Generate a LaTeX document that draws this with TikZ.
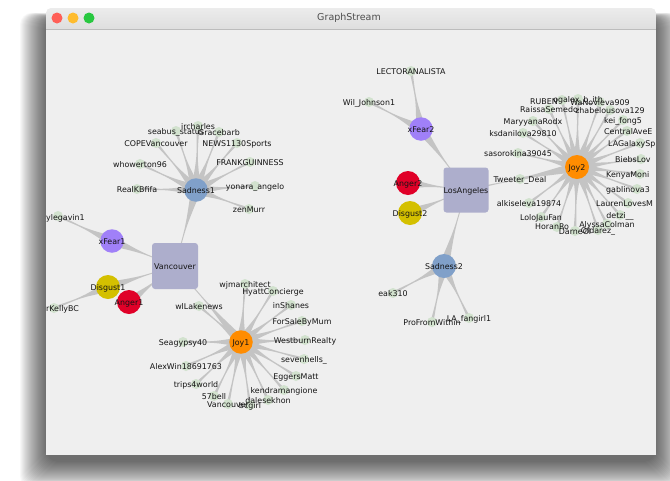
\documentclass[tikz,border=0pt]{standalone}
\usepackage{fontspec}
\setmainfont{DejaVu Sans}
\usetikzlibrary{calc}
\definecolor{edgec}{RGB}{196,196,196}
\definecolor{leafc}{RGB}{210,226,206}
\definecolor{sadc}{RGB}{128,160,201}
\definecolor{fearc}{RGB}{160,128,248}
\definecolor{disc}{RGB}{212,192,0}
\definecolor{angc}{RGB}{224,0,40}
\definecolor{joyc}{RGB}{255,140,0}
\definecolor{cityc}{RGB}{173,174,204}
\definecolor{winbg}{RGB}{239,239,239}
\definecolor{tbtop}{RGB}{236,236,236}
\definecolor{tbbot}{RGB}{212,212,212}
\definecolor{tbline}{RGB}{188,188,188}
\definecolor{txtc}{RGB}{20,20,20}
\definecolor{titlec}{RGB}{77,77,77}
\definecolor{lred}{RGB}{255,95,87}
\definecolor{lyel}{RGB}{254,188,46}
\definecolor{lgrn}{RGB}{40,200,64}
\pgfdeclarelayer{bg}
\pgfdeclarelayer{edgelayer}
\pgfdeclarelayer{labels}
\pgfsetlayers{bg,edgelayer,main,labels}
\newcommand\blobedge[4]{\fill[edgec] ($(#1)!#3!90:(#2)$) .. controls ($(#1)!0.5!(#2)$) .. ($(#2)!#4!-90:(#1)$) -- ($(#2)!#4!90:(#1)$) .. controls ($(#1)!0.5!(#2)$) .. ($(#1)!#3!-90:(#2)$) -- cycle;}
\tikzset{
  lbl/.style={font=\fontsize{7.9}{9}\selectfont, text=txtc, inner sep=0pt},
  leafst/.style={circle, fill=leafc, minimum size=10pt, inner sep=0pt},
  emo/.style={circle, minimum size=23.5pt, inner sep=0pt},
  city/.style={rectangle, fill=cityc, rounded corners=3pt, minimum size=46pt, inner sep=0pt}
}
\begin{document}
\begin{tikzpicture}[x=1pt,y=-1pt]
\begin{pgfonlayer}{bg}
\fill[white] (0,0) rectangle (670,480);
\useasboundingbox (0,0) rectangle (670,480);
\foreach \i in {0,...,26} {
  \fill[black, opacity=0.026, rounded corners=12pt] (46-\i, 18-0.2*\i) rectangle (656+\i, 462+\i);
}
\shade[top color=tbtop, bottom color=tbbot, rounded corners=5pt] (46,8) rectangle (656,44);
\fill[winbg] (46,29) rectangle (656,455);
\draw[tbline, line width=0.6pt] (46,29) -- (656,29);
\end{pgfonlayer}
\fill[lred] (57,18) circle (5.5);
\fill[lyel] (73,18) circle (5.5);
\fill[lgrn] (89,18) circle (5.5);
\node[font=\fontsize{9.5}{11}\selectfont, text=titlec, inner sep=0pt] (title) at (349,18) {GraphStream};

% hubs
\node[city] (Van) at (175,266) {};
\node[city, minimum size=45pt] (LA) at (466,190) {};
\node[emo, fill=sadc] (Sad1) at (196,190) {};
\node[emo, fill=fearc] (Fear1) at (112,241) {};
\node[emo, fill=disc, minimum size=24pt] (Dis1) at (108,287) {};
\node[emo, fill=angc, minimum size=24pt] (Ang1) at (129,302) {};
\node[emo, fill=joyc] (Joy1) at (241,342) {};
\node[emo, fill=fearc] (Fear2) at (421,129) {};
\node[emo, fill=angc, minimum size=24pt] (Ang2) at (408,183) {};
\node[emo, fill=disc, minimum size=24pt] (Dis2) at (410,213) {};
\node[emo, fill=sadc, minimum size=24pt] (Sad2) at (444,266) {};
\node[emo, fill=joyc, minimum size=24pt] (Joy2) at (577,167) {};
\begin{pgfonlayer}{labels}
\foreach \n/\t in {Van/Vancouver, LA/LosAngeles, Sad1/Sadness1, Fear1/xFear1, Dis1/Disgust1, Ang1/Anger1, Joy1/Joy1, Fear2/xFear2, Ang2/Anger2, Dis2/Disgust2, Sad2/Sadness2, Joy2/Joy2}
  {\node[lbl] (\n-l) at ($(\n.center)+(0,1)$) {\t};}
\end{pgfonlayer}

% leaves with centred labels
\foreach \n/\x/\y/\t in {
  s1/198/126/ircharles, s2/176/131/seabus\_status, s3/219/132/Gracebarb,
  s4/156/143/COPEVancouver, s5/237/143/NEWS1130Sports, s6/140/164/whowerton96,
  s7/250/162/FRANKGUINNESS, s8/137/189/RealKBfifa, s9/255/186/yonara\_angelo,
  s10/249/209/zenMurr,
  j1/199/306/wlLakenews, j2/245/284/wjmarchitect, j3/273/291/HyattConcierge,
  j4/291/305/inShanes, j5/302/321/ForSaleByMum, j6/305/340/WestburnRealty,
  j7/304/359/sevenhells\_, j8/296/376/EggersMatt, j9/284/390/kendramangione,
  j10/268/400/dalesekhon, j11/228/404/Vancouver, j13/214/396/57bell,
  j12/250/405/bcgirl, j14/196/384/trips4world, j15/186/366/AlexWin18691763,
  j16/183/342/Seagypsy40,
  f1/411/71/LECTORANALISTA, f2/369/102/Wil\_Johnson1,
  e1/393/293/eak310, e2/432/322/ProFromWithin, e3/469/318/LA\_fangirl1,
  k1/520/179/Tweeter\_Deal, k2/518/153/sasorokina39045, k3/523/133/ksdanilova29810,
  k4/533/121/MaryyanaRodx, k7/578/99/ogalex\_b\_ith, k8/600/102/WaNovieva909,
  k5/549/109/RaissaSemedo, k9/610/110/zhabelousova129, k10/623/120/kei\_fong5,
  k17/620/215/detzi\_\_, k18/607/224/AlyssaColman, k19/575/231/DarneOl,
  k20/598/230/Oldarez\_, k22/541/217/LoloJauFan, k23/529/203/alkiseleva19874}
{
  \node[leafst] (\n) at (\x,\y) {};
  \begin{pgfonlayer}{labels}
    \node[lbl] (\n-l) at (\x,\y+1) {\t};
  \end{pgfonlayer}
}
% leaves whose labels are cut by the window edge or covered
\foreach \n/\x/\y/\lx/\ly/\t in {
  k6/562/100/530/102/RUBEN, k11/627/131/604/132/CentralAveE,
  k12/640/143/608/144/LAGalaxySp, k13/641/159/615/160/BiebsLov,
  k14/640/174/606/175/KenyaMoni, k15/637/189/606/190/gablinova3,
  k16/628/203/596/204/LaurenLovesM, k21/557/227/535/227/HoranRo,
  kg/58/216/46/218/ylegavin1, kb/54/308/46/309/rKellyBC}
{
  \node[leafst] (\n) at (\x,\y) {};
  \begin{pgfonlayer}{labels}
    \node[lbl, anchor=west] (\n-l) at (\lx,\ly) {\t};
  \end{pgfonlayer}
}

% connectors
\begin{pgfonlayer}{edgelayer}
\foreach \h/\l in {
  Sad1/s1, Sad1/s2, Sad1/s3, Sad1/s4, Sad1/s5, Sad1/s6, Sad1/s7, Sad1/s8, Sad1/s9, Sad1/s10,
  Joy1/j1, Joy1/j2, Joy1/j3, Joy1/j4, Joy1/j5, Joy1/j6, Joy1/j7, Joy1/j8, Joy1/j9, Joy1/j10,
  Joy1/j11, Joy1/j12, Joy1/j13, Joy1/j14, Joy1/j15, Joy1/j16,
  Fear2/f1, Fear2/f2, Sad2/e1, Sad2/e2, Sad2/e3,
  Joy2/k1, Joy2/k2, Joy2/k3, Joy2/k4, Joy2/k5, Joy2/k6, Joy2/k7, Joy2/k8, Joy2/k9, Joy2/k10,
  Joy2/k11, Joy2/k12, Joy2/k13, Joy2/k14, Joy2/k15, Joy2/k16, Joy2/k17, Joy2/k18, Joy2/k19,
  Joy2/k20, Joy2/k21, Joy2/k22, Joy2/k23, Fear1/kg, Dis1/kb}
  {\blobedge{\h.center}{\l.center}{5pt}{1.5pt}}
\foreach \h/\c in {Sad1/Van, Fear1/Van, Dis1/Van, Ang1/Van, Joy1/Van,
  Fear2/LA, Ang2/LA, Dis2/LA, Sad2/LA, Joy2/LA}
  {\blobedge{\h.center}{\c.center}{5pt}{1pt}}
\end{pgfonlayer}
\end{tikzpicture}
\end{document}
